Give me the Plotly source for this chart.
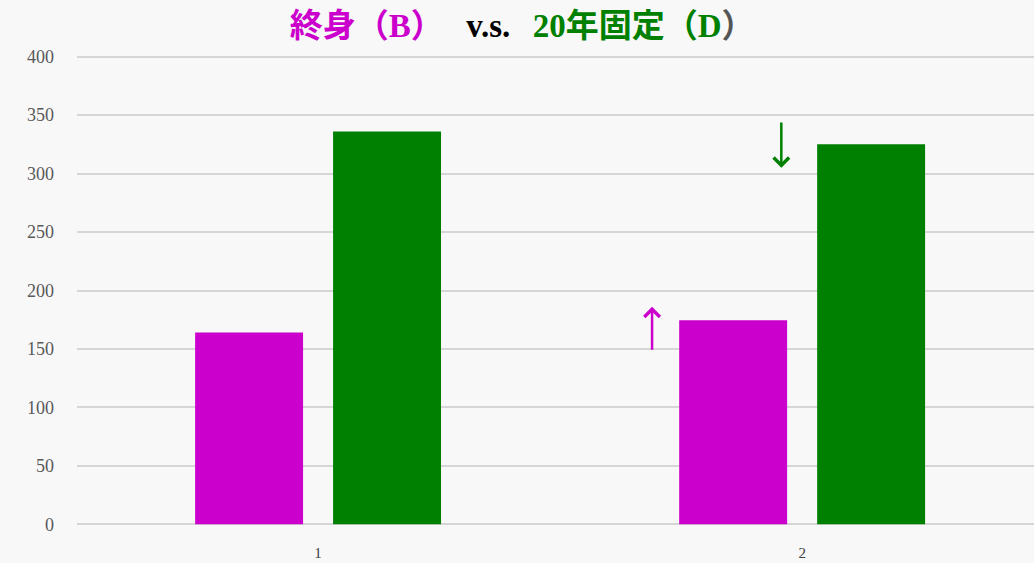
import plotly.graph_objects as go

# Categories and the two series
categories = [1, 2]
series_b = [164, 174.5]     # 終身(B)
series_d = [336, 325]       # 20年固定(D)
y_ticks = [0, 50, 100, 150, 200, 250, 300, 350, 400]

MAGENTA = "#CC00CC"
GREEN = "#008000"
BG = "#f8f8f8"

fig = go.Figure()
fig.add_trace(go.Bar(x=categories, y=series_b, name="終身(B)",
                     marker=dict(color=MAGENTA, line=dict(width=0)),
                     width=0.223, offset=-0.254))
fig.add_trace(go.Bar(x=categories, y=series_d, name="20年固定(D)",
                     marker=dict(color=GREEN, line=dict(width=0)),
                     width=0.223, offset=0.031))

# Trend arrows next to the second group
fig.add_annotation(x=1.957, y=305, ax=1.957, ay=345, xref="x", yref="y",
                   axref="x", ayref="y", showarrow=True, arrowhead=4,
                   arrowsize=1.2, arrowwidth=2.5, arrowcolor=GREEN, text="")
fig.add_annotation(x=1.69, y=186, ax=1.69, ay=148, xref="x", yref="y",
                   axref="x", ayref="y", showarrow=True, arrowhead=4,
                   arrowsize=1.2, arrowwidth=2.5, arrowcolor=MAGENTA, text="")

SERIF = "font-family:Liberation Serif"
title = (
    f'<span style="color:{MAGENTA}">終身（<span style="{SERIF}">B</span>）</span>'
    f'   <span style="color:#000000;{SERIF}">v.s.</span>   '
    f'<span style="color:{GREEN}"><span style="{SERIF}">20</span>年固定（'
    f'<span style="{SERIF}">D</span></span>'
    f'<span style="color:#555555">）</span>'
)

fig.update_layout(
    width=1034, height=563,
    margin=dict(l=77, r=0, t=52, b=34),
    paper_bgcolor=BG, plot_bgcolor=BG,
    showlegend=False,
    barmode="group",
    title=dict(text="<b>" + title + "</b>", x=0.505, xanchor="center",
               y=1 - 25 / 563, yanchor="middle", yref="container",
               font=dict(family="Noto Sans CJK JP", size=33)),
    xaxis=dict(range=[0.502, 2.479], tickvals=categories,
               ticktext=[str(c) for c in categories], showgrid=False,
               zeroline=False, showline=False, ticks="",
               ticklabelstandoff=13, automargin=False,
               tickfont=dict(family="Liberation Serif", size=15,
                             color="#404040")),
    yaxis=dict(range=[-4, 404], tickvals=y_ticks, showgrid=True,
               gridcolor="#d6d6d6", gridwidth=1.5, zeroline=False,
               showline=False, ticks="", ticklabelstandoff=22,
               automargin=False,
               tickfont=dict(family="Liberation Serif", size=18,
                             color="#595959")),
)

fig.write_html("out.html")
